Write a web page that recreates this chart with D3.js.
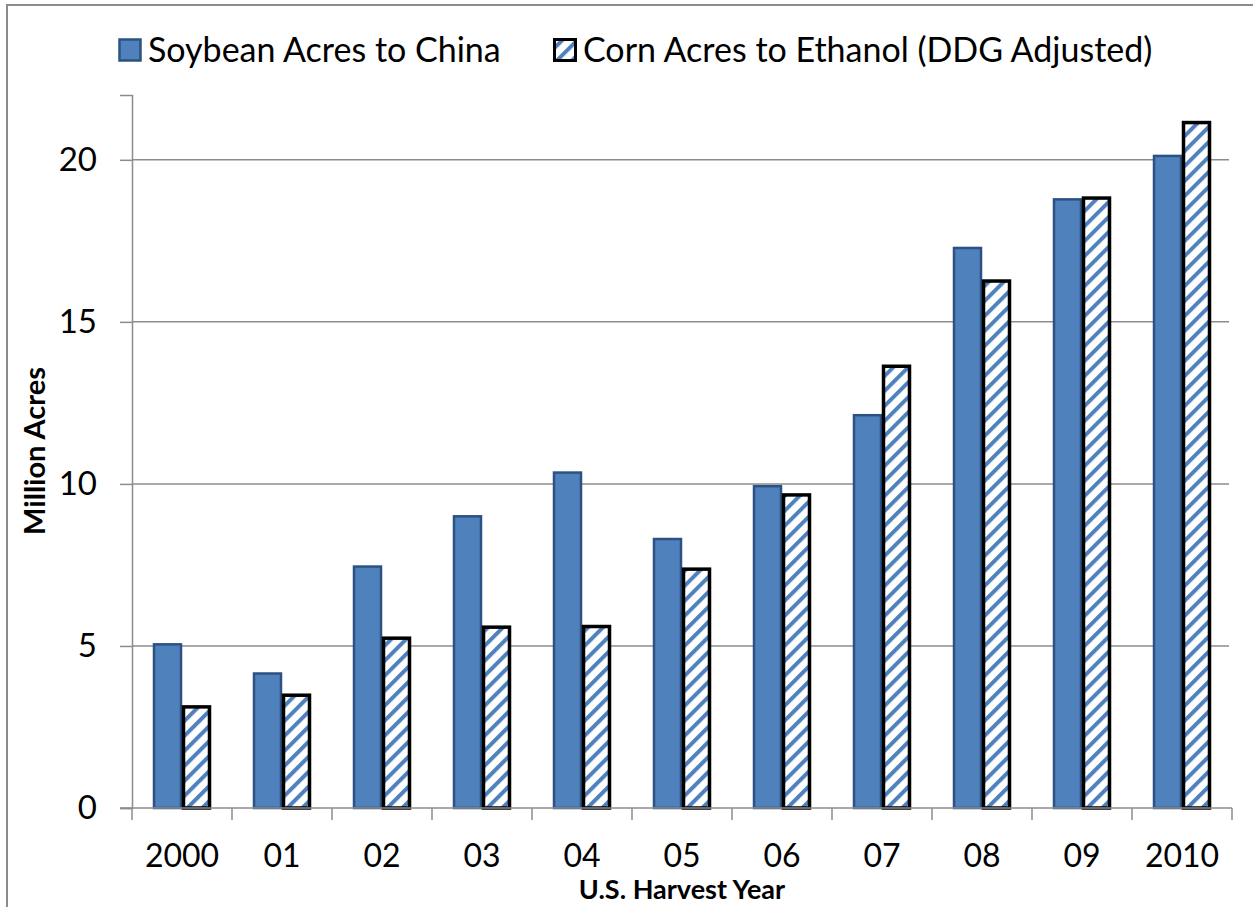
<!DOCTYPE html>
<html>
<head>
<meta charset="utf-8">
<script src="https://cdn.jsdelivr.net/npm/d3@7"></script>
<style>
  body { margin: 0; background: #fff; }
  text { font-family: Lato, "Open Sans", sans-serif; }
</style>
</head>
<body>
<div id="chart"></div>
<script>
    // data
    const years = ["2000", "01", "02", "03", "04", "05", "06", "07", "08", "09", "2010"];
    const seriesNames = ["Soybean Acres to China", "Corn Acres to Ethanol (DDG Adjusted)"];
    const soybean = [5.05, 4.15, 7.45, 9.0, 10.35, 8.3, 9.93, 12.12, 17.28, 18.78, 20.12];
    const corn = [3.12, 3.48, 5.24, 5.58, 5.6, 7.37, 9.66, 13.63, 16.26, 18.82, 21.15];
    const yTicks = [0, 5, 10, 15, 20];

    const width = 1253;
    const height = 907;
    const plot = { left: 132, right: 1232, top: 95, bottom: 808 };

    const svg = d3.select("#chart")
        .append("svg")
        .attr("width", width)
        .attr("height", height);

    // outer chart border
    svg.append("rect")
        .attr("x", 7)
        .attr("y", 5)
        .attr("width", 1270)
        .attr("height", 930)
        .attr("fill", "none")
        .attr("stroke", "#8c8c8c")
        .attr("stroke-width", 2);

    // diagonal hatch for corn bars
    const defs = svg.append("defs");
    const pat = defs.append("pattern")
        .attr("id", "hatch")
        .attr("patternUnits", "userSpaceOnUse")
        .attr("width", 10.6)
        .attr("height", 10.6)
        .attr("patternTransform", "rotate(45)");
    pat.append("rect").attr("width", 10.6).attr("height", 10.6).attr("fill", "#fff");
    pat.append("rect").attr("width", 4).attr("height", 10.6).attr("fill", "#4f81bd");

    const xScale = d3.scaleBand()
        .domain(years)
        .range([plot.left, plot.right])
        .paddingInner(0.42)
        .paddingOuter(0.21);

    const xSub = d3.scaleBand()
        .domain([0, 1])
        .range([0, xScale.bandwidth()]);

    const yScale = d3.scaleLinear()
        .domain([0, 22])
        .range([plot.bottom, plot.top]);

    // gridlines
    svg.append("g")
        .selectAll("line")
        .data(yTicks.filter(d => d > 0))
        .enter()
        .append("line")
        .attr("x1", plot.left)
        .attr("x2", plot.right - 3)
        .attr("y1", d => yScale(d))
        .attr("y2", d => yScale(d))
        .attr("stroke", "#8c8c8c")
        .attr("stroke-width", 1.5);

    // Y axis
    const yAxis = svg.append("g")
        .attr("transform", `translate(${plot.left},0)`)
        .call(d3.axisLeft(yScale).tickValues(yTicks).tickSize(12).tickPadding(23));
    yAxis.select(".domain").attr("stroke", "#8c8c8c").attr("stroke-width", 1.5);
    yAxis.selectAll(".tick line").attr("stroke", "#8c8c8c").attr("stroke-width", 1.5);
    yAxis.selectAll("text")
        .attr("fill", "#000")
        .style("font-size", "33px")
        .style("font-family", "Lato, sans-serif");

    // bars
    const groups = svg.append("g")
        .selectAll("g")
        .data(years.map((y, i) => ({ year: y, values: [soybean[i], corn[i]] })))
        .enter()
        .append("g")
        .attr("transform", d => `translate(${xScale(d.year)},0)`);

    groups.selectAll("rect")
        .data(d => d.values.map((v, k) => ({ k, v })))
        .enter()
        .append("rect")
        .attr("x", d => xSub(d.k) + (d.k === 0 ? 1 : 1.5))
        .attr("y", d => yScale(d.v))
        .attr("width", d => xSub.bandwidth() - (d.k === 0 ? 2 : 3))
        .attr("height", d => plot.bottom - yScale(d.v))
        .attr("fill", d => d.k === 0 ? "#4f81bd" : "url(#hatch)")
        .attr("stroke", d => d.k === 0 ? "#2c5183" : "#000")
        .attr("stroke-width", d => d.k === 0 ? 2.5 : 3.5);

    // X axis
    const xAxis = svg.append("g")
        .attr("transform", `translate(0,${plot.bottom})`);
    xAxis.append("line")
        .attr("x1", plot.left - 12)
        .attr("x2", plot.right)
        .attr("stroke", "#8c8c8c")
        .attr("stroke-width", 1.5);
    xAxis.selectAll(".cat-tick")
        .data(years.concat(["end"]))
        .enter()
        .append("line")
        .attr("class", "cat-tick")
        .attr("x1", (d, i) => plot.left + i * xScale.step())
        .attr("x2", (d, i) => plot.left + i * xScale.step())
        .attr("y1", 0)
        .attr("y2", 12)
        .attr("stroke", "#8c8c8c")
        .attr("stroke-width", 1.5);
    xAxis.selectAll(".cat-label")
        .data(years)
        .enter()
        .append("text")
        .attr("x", d => xScale(d) + xScale.bandwidth() / 2)
        .attr("y", 59)
        .attr("text-anchor", "middle")
        .style("font-size", "32px")
        .text(d => d);

    // axis titles
    svg.append("text")
        .attr("x", 682)
        .attr("y", 899)
        .attr("text-anchor", "middle")
        .style("font-size", "27px")
        .style("font-weight", "bold")
        .text("U.S. Harvest Year");

    svg.append("text")
        .attr("transform", "translate(45,451) rotate(-90)")
        .attr("text-anchor", "middle")
        .style("font-size", "29px")
        .style("font-weight", "bold")
        .text("Million Acres");

    // legend
    const legendX = [118, 553];
    const legend = svg.append("g");
    seriesNames.forEach((name, i) => {
        legend.append("rect")
            .attr("x", legendX[i] + 1.5)
            .attr("y", 39.5)
            .attr("width", 21)
            .attr("height", 21)
            .attr("fill", i === 0 ? "#4f81bd" : "url(#hatch)")
            .attr("stroke", i === 0 ? "#2c5183" : "#000")
            .attr("stroke-width", i === 0 ? 2.5 : 3);
        legend.append("text")
            .attr("x", legendX[i] + 30)
            .attr("y", 62)
            .style("font-size", "34px")
            .text(name);
    });
</script>
</body>
</html>
